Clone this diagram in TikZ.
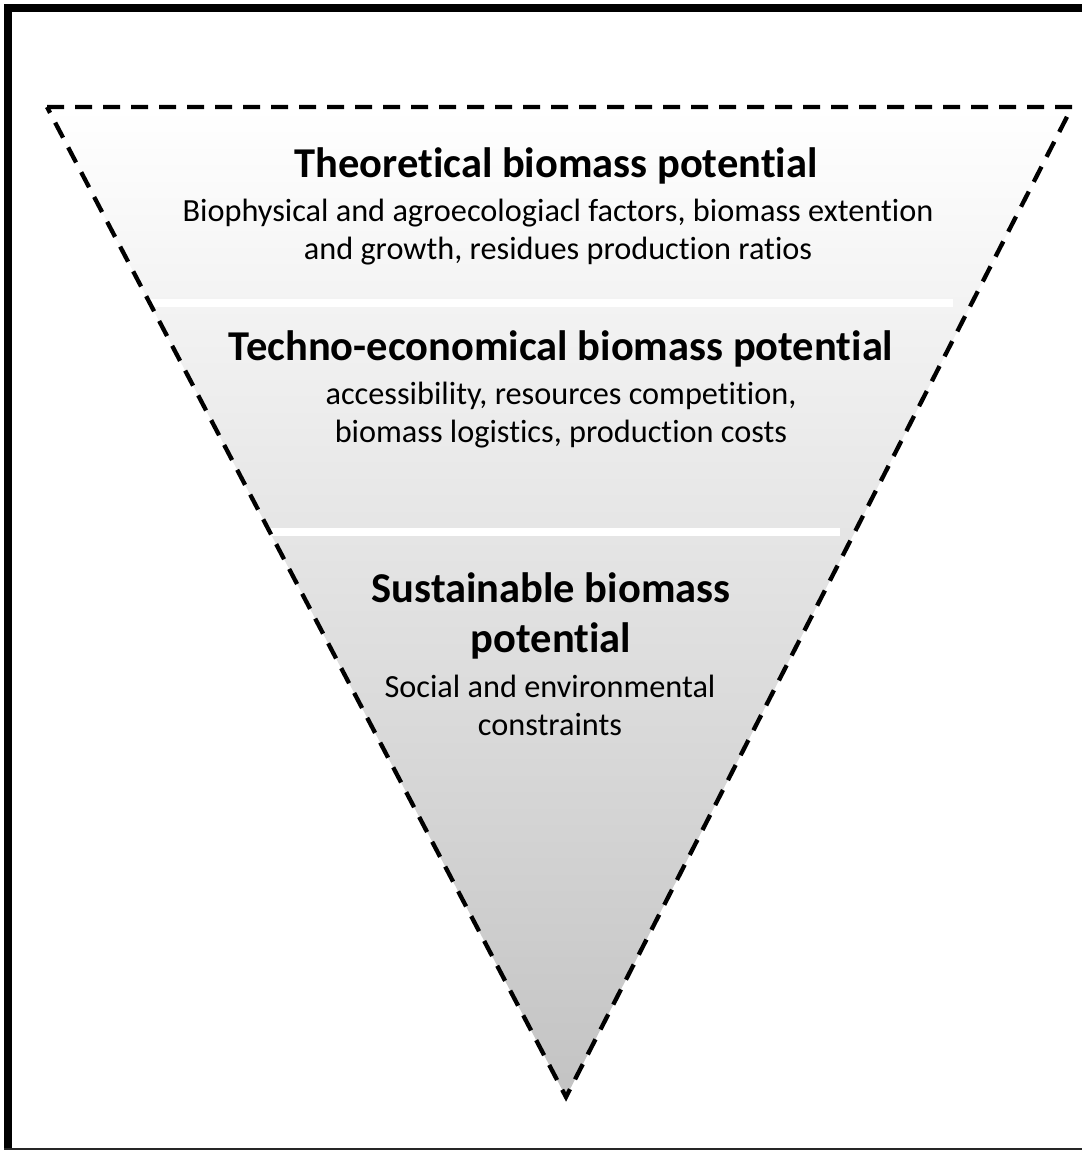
\documentclass[tikz,border=0pt]{standalone}
\usepackage{fontspec}
\setmainfont[Ligatures={NoCommon}]{Carlito}
\definecolor{botgray}{RGB}{195,195,195}
\tikzset{
  ttl/.style={font=\bfseries\fontsize{42.5}{50}\selectfont, align=center, inner sep=0pt},
  sub/.style={font=\fontsize{32.3}{38}\selectfont, align=center, inner sep=0pt},
  outline/.style={dash pattern=on 17pt off 11pt, line width=4.3pt, line join=miter},
  band/.style={white, line width=8pt}
}
\begin{document}
\begin{tikzpicture}[x=1pt,y=-1pt]
\useasboundingbox (0,0) rectangle (1082,1151);
\fill[white] (0,0) rectangle (1082,1151);
% triangle
\coordinate (tl) at (47,107);
\coordinate (tr) at (1072,107);
\coordinate (bt) at (566,1097);
\shade[top color=white, bottom color=botgray] (tl) -- (tr) -- (bt) -- cycle;
% white separators
\coordinate (b1l) at (150,303);
\coordinate (b1r) at (953,303);
\coordinate (b2l) at (270,532);
\coordinate (b2r) at (840,532);
\draw[band] (b1l) -- (b1r);
\draw[band] (b2l) -- (b2r);
\draw[outline] (tl) -- (tr) -- (bt) -- cycle;
% frame
\fill[black] (4,4) rectangle (1082,12);
\fill[black] (4,4) rectangle (12,1150);
\draw[black!85, line width=2pt] (4,1149) -- (1082,1149);
% texts
\node[ttl] (t1) at (556,166) {Theoretical biomass potential};
\node[sub] (s1) at (558,232) {Biophysical and agroecologiacl factors, biomass extention\\and growth, residues production ratios};
\node[ttl] (t2) at (561,349) {Techno-economical biomass potential};
\node[sub] (s2) at (561,415) {accessibility, resources competition,\\biomass logistics, production costs};
\node[ttl] (t3) at (551,616) {Sustainable biomass\\potential};
\node[sub] (s3) at (550,705) {Social and environmental\\constraints};
\end{tikzpicture}
\end{document}
